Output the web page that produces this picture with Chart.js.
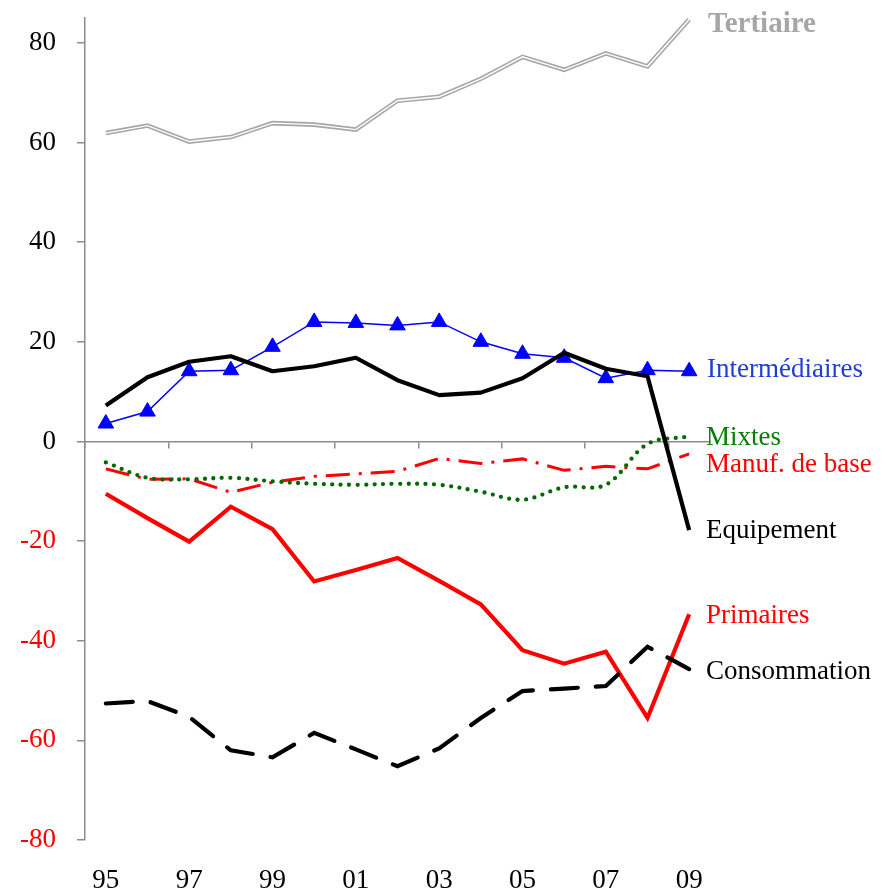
<!DOCTYPE html>
<html><head><meta charset="utf-8">
<script src="https://cdn.jsdelivr.net/npm/chart.js@4/dist/chart.umd.min.js"></script>
<style>html,body{margin:0;padding:0;background:#fff;overflow:hidden}</style>
</head><body>
<canvas id="c" width="887" height="891"></canvas>
<script>
const years = ['95','96','97','98','99','00','01','02','03','04','05','06','07','08','09'];
const yTicks = [-80,-60,-40,-20,0,20,40,60,80];
const tertiaire = [61.9,63.4,60.2,61.1,63.9,63.6,62.6,68.4,69.2,72.8,77.2,74.6,77.9,75.3,84.7];
const intermediaires = [3.6,6.0,14.1,14.3,19.0,24.0,23.8,23.3,24.0,20.0,17.6,16.8,12.7,14.3,14.1];
const equipement = [7.2,12.9,16.0,17.1,14.1,15.1,16.8,12.3,9.3,9.8,12.7,17.8,14.6,13.1,-17.8];
const mixtes = [-4.2,-7.3,-7.6,-7.3,-8.0,-8.5,-8.7,-8.5,-8.7,-10.1,-11.7,-9.2,-8.7,-0.5,1.0];
const manufBase = [-5.5,-7.6,-7.5,-10.2,-8.2,-7.0,-6.5,-6.0,-3.4,-4.4,-3.5,-5.8,-5.0,-5.5,-2.5];
const primaires = [-10.5,-15.4,-20.1,-13.1,-17.6,-28.1,-25.8,-23.4,-28.0,-32.7,-41.9,-44.6,-42.2,-55.5,-34.7];
const consommation = [-52.6,-52.1,-55.3,-62.0,-63.4,-58.5,-61.8,-65.2,-61.6,-55.5,-50.1,-49.6,-49.1,-41.2,-45.7];

const FONT = "'Liberation Serif','Times New Roman',serif";
const AXIS_GRAY = '#8c8c8c';

// end-of-line series labels (text, colour, anchor value on the y scale)
const seriesLabels = [
  {text:'Tertiaire', color:'#a6a6a6', bold:true, size:29, at:83.6, dx:708},
  {text:'Intermédiaires', color:'#1f3fd0', size:27, at:14.3, dx:707},
  {text:'Mixtes', color:'#008000', size:27, at:0.8, dx:706},
  {text:'Manuf. de base', color:'#ff0000', size:27, at:-4.8, dx:706},
  {text:'Equipement', color:'#000000', size:27, at:-17.9, dx:706},
  {text:'Primaires', color:'#ff0000', size:27, at:-35.0, dx:706},
  {text:'Consommation', color:'#000000', size:27, at:-46.3, dx:706}
];

const labelPlugin = {
  id:'seriesLabels',
  afterDatasetsDraw(chart){
    const ctx = chart.ctx, ys = chart.scales.y;
    ctx.save();
    ctx.textBaseline = 'middle';
    ctx.textAlign = 'left';
    seriesLabels.forEach(l => {
      ctx.font = (l.bold ? 'bold ' : '') + l.size + 'px ' + FONT;
      ctx.fillStyle = l.color;
      ctx.fillText(l.text, l.dx, ys.getPixelForValue(l.at));
    });
    ctx.restore();
  }
};

const common = {pointRadius:0, fill:false, tension:0, xAxisID:'x', yAxisID:'y'};

new Chart(document.getElementById('c'), {
  type:'line',
  data:{
    labels: years,
    datasets:[
      {...common, label:'Equipement', data:equipement, borderColor:'#000000', borderWidth:4.2, borderJoinStyle:'round'},
      {...common, label:'Consommation', data:consommation, borderColor:'#000000', borderWidth:4.2, borderDash:[27,18], borderCapStyle:'round'},
      {...common, label:'Tertiaire (inner)', data:tertiaire, borderColor:'#ffffff', borderWidth:1.4},
      {...common, label:'Tertiaire', data:tertiaire, borderColor:'#a6a6a6', borderWidth:4.6},
      {...common, label:'Intermédiaires', data:intermediaires, borderColor:'#0000ff', borderWidth:1.5,
        pointRadius:9, pointStyle:'triangle', pointBackgroundColor:'#0000ff', pointBorderColor:'#0000ff', pointBorderWidth:1},
      {...common, label:'Mixtes', data:mixtes, borderColor:'#006a00', borderWidth:4.3, borderDash:[0,8.5], borderCapStyle:'round', tension:0.35},
      {...common, label:'Manuf. de base', data:manufBase, borderColor:'#ff0000', borderWidth:3, borderDash:[24,9,3,9]},
      {...common, label:'Primaires', data:primaires, borderColor:'#ff0000', borderWidth:4.2}
    ]
  },
  options:{
    responsive:false,
    animation:false,
    devicePixelRatio:1,
    layout:{padding:{top:18, right:177, left:0, bottom:0}},
    plugins:{legend:{display:false}, tooltip:{enabled:false}},
    scales:{
      x:{
        type:'category',
        position:{y:0},
        offset:true,
        grid:{offset:true, drawOnChartArea:false, drawTicks:true, tickLength:6, lineWidth:1.5,
          color: c => (c.index !== undefined && c.index % 2 === 0) ? AXIS_GRAY : 'rgba(0,0,0,0)'},
        border:{display:true, color:AXIS_GRAY, width:1.5},
        ticks:{display:false},
        afterFit: s => { s.height = 0; s.paddingLeft = 0; s.paddingRight = 0; }
      },
      x2:{
        type:'category',
        position:'bottom',
        offset:true,
        grid:{display:false, drawTicks:false},
        border:{display:false},
        ticks:{autoSkip:false, maxRotation:0, minRotation:0, padding:25, color:'#000000',
          font:{family:FONT, size:27},
          callback:function(v, i){ return i % 2 === 0 ? this.getLabelForValue(v) : ''; }},
        afterFit: s => { s.height = 51; s.paddingLeft = 0; s.paddingRight = 0; }
      },
      y:{
        min:-80, max:85,
        grid:{drawOnChartArea:false, drawTicks:true, tickLength:8, color:AXIS_GRAY, lineWidth:1.5},
        border:{display:true, color:AXIS_GRAY, width:1.5},
        ticks:{padding:21, font:{family:FONT, size:27},
          color: c => (c.tick && c.tick.value < 0) ? '#ff0000' : '#000000'},
        afterBuildTicks: s => { s.ticks = yTicks.map(v => ({value:v})); },
        afterFit: s => { s.width = 85; s.paddingTop = 0; s.paddingBottom = 0; }
      }
    }
  },
  plugins:[labelPlugin]
});
</script>
</body></html>
